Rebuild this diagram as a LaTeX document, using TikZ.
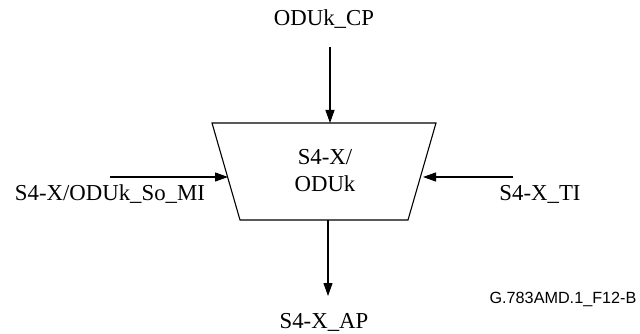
\documentclass[tikz,border=0pt]{standalone}
\usepackage{fontspec}
\setmainfont{Liberation Serif}
\newfontfamily\arialfont{Liberation Sans}
\usetikzlibrary{arrows.meta}
\begin{document}
\begin{tikzpicture}[x=1pt,y=-1pt,
  lbl/.style={font=\fontsize{22.8}{27}\selectfont, inner sep=0pt},
  conn/.style={line width=1.1pt, -{Triangle[length=13pt,width=9pt]}},
  trapline/.style={line width=1.1pt, line join=miter}]
\useasboundingbox (0,0) rectangle (640,334);
% trapezoid
\coordinate (tl) at (212,123);
\coordinate (tr) at (436,123);
\coordinate (br) at (408,220);
\coordinate (bl) at (240,220);
\draw[trapline] (tl) -- (tr) -- (br) -- (bl) -- cycle;
\node[lbl, align=center] (fn) at (325,171) {S4-X/\\ODUk};
% labels
\node[lbl] (cp) at (324,19) {ODUk\_CP};
\node[lbl] (mi) at (110,194) {S4-X/ODUk\_So\_MI};
\node[lbl] (ti) at (540,194) {S4-X\_TI};
\node[lbl] (ap) at (324,322) {S4-X\_AP};
\node[inner sep=0pt, font=\arialfont\fontsize{16.2}{19}\selectfont] (fig) at (563,299) {G.783AMD.1\_F12-B};
% connector end points
\coordinate (cpA) at (330,47);
\coordinate (cpB) at (330,123);
\coordinate (miA) at (110,177);
\coordinate (miB) at (228,177);
\coordinate (tiA) at (513,177);
\coordinate (tiB) at (423,177);
\coordinate (apA) at (328,220);
\coordinate (apB) at (328,296);
\draw[conn] (cpA) -- (cpB);
\draw[conn] (miA) -- (miB);
\draw[conn] (tiA) -- (tiB);
\draw[conn] (apA) -- (apB);
\end{tikzpicture}
\end{document}
